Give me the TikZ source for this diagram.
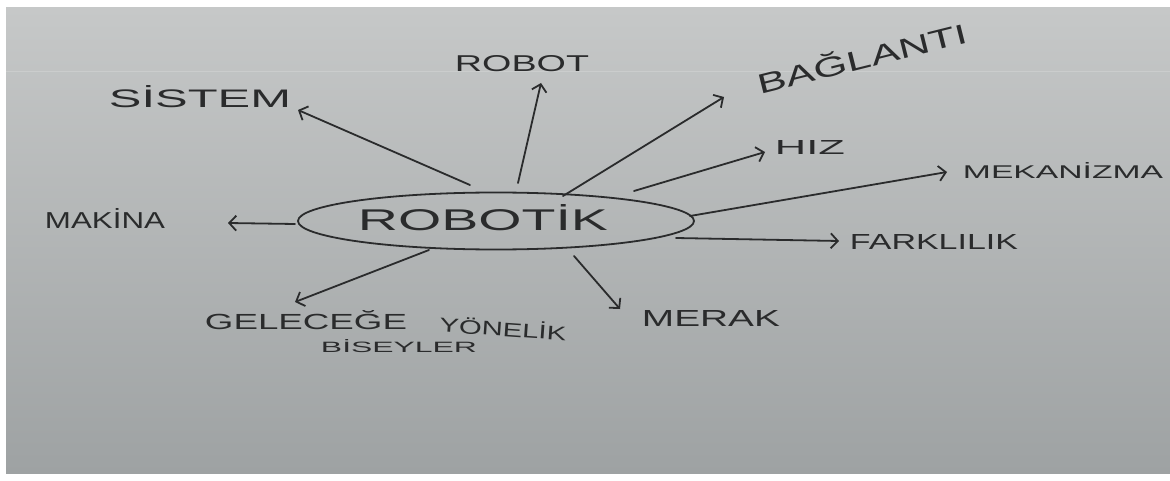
\documentclass[tikz,border=0pt]{standalone}
\usepackage{fontspec}
\setmainfont{Liberation Sans}
\usetikzlibrary{shapes.geometric,arrows.meta}
\definecolor{inkc}{HTML}{2A2B2C}
\definecolor{papertop}{HTML}{C6C8C8}
\definecolor{paperbot}{HTML}{9EA2A3}
\definecolor{ruled}{HTML}{D2D4D4}
% text boxed to a given width and height (in pt)
\newcommand{\hw}[3]{\resizebox{#1pt}{#2pt}{#3}}
\begin{document}
\begin{tikzpicture}[x=1pt,y=-1pt,
  ink/.style={draw=inkc,line width=1.8pt,line cap=round,line join=round},
  link/.style={ink,-{Straight Barb[length=7pt,width=15pt,line width=1.8pt]}},
  word/.style={text=inkc,inner sep=0pt,anchor=center}]
% sheet of paper on a white ground
\fill[white] (0,0) rectangle (1170,481);
\useasboundingbox (0,0) rectangle (1170,481);
\shade[top color=papertop,bottom color=paperbot] (6,8) rectangle (1170,473);
\draw[ruled,line width=1pt,opacity=.6] (6,72) -- (1170,72);

% central topic
\node[ellipse,ink,minimum width=396pt,minimum height=57pt,inner sep=0pt] (core) at (496,221) {};
\node[word] (coreText) at (483,218) {\hw{250}{26}{ROBOTİK}};

% surrounding labels
\node[word] (makina)   at (105,218) {\hw{120}{20}{MAKİNA}};
\node[word] (sistem)   at (200,97)  {\hw{182}{22}{SİSTEM}};
\node[word] (robot)    at (522,64)  {\hw{134}{16}{ROBOT}};
\node[word,rotate=14] (baglanti) at (862,57) {\hw{215}{24}{BAĞLANTI}};
\node[word] (hiz)      at (810,148) {\hw{70}{14}{HIZ}};
\node[word] (mekanizma) at (1063,171) {\hw{200}{16}{MEKANİZMA}};
\node[word] (farklilik) at (934,242) {\hw{168}{15}{FARKLILIK}};
\node[word] (merak)    at (711,318) {\hw{138}{16}{MERAK}};
\node[word] (gelecege) at (306,320) {\hw{202}{19}{GELECEĞE}};
\node[word,rotate=-4] (yonelik) at (503,328) {\hw{127}{17}{YÖNELİK}};
\node[word] (biseyler) at (399,346) {\hw{156}{13}{BİSEYLER}};

% arrow tails and tips
\coordinate (tMak) at (295,224);  \coordinate (hMak) at (228,223);
\coordinate (tSis) at (470,185);  \coordinate (hSis) at (298,110);
\coordinate (tRob) at (518,183);  \coordinate (hRob) at (541,83);
\coordinate (tBag) at (563,196);  \coordinate (hBag) at (724,97);
\coordinate (tHiz) at (634,191);  \coordinate (hHiz) at (765,152);
\coordinate (tMek) at (690,216);  \coordinate (hMek) at (947,172);
\coordinate (tFar) at (676,238);  \coordinate (hFar) at (839,241);
\coordinate (tMer) at (574,256);  \coordinate (hMer) at (620,309);
\coordinate (tGel) at (429,250);  \coordinate (hGel) at (295,302);

\draw[link] (tMak) -- (hMak);
\draw[link] (tSis) -- (hSis);
\draw[link] (tRob) -- (hRob);
\draw[link] (tBag) -- (hBag);
\draw[link] (tHiz) -- (hHiz);
\draw[link] (tMek) -- (hMek);
\draw[link] (tFar) -- (hFar);
\draw[link] (tMer) -- (hMer);
\draw[link] (tGel) -- (hGel);
\end{tikzpicture}
\end{document}
